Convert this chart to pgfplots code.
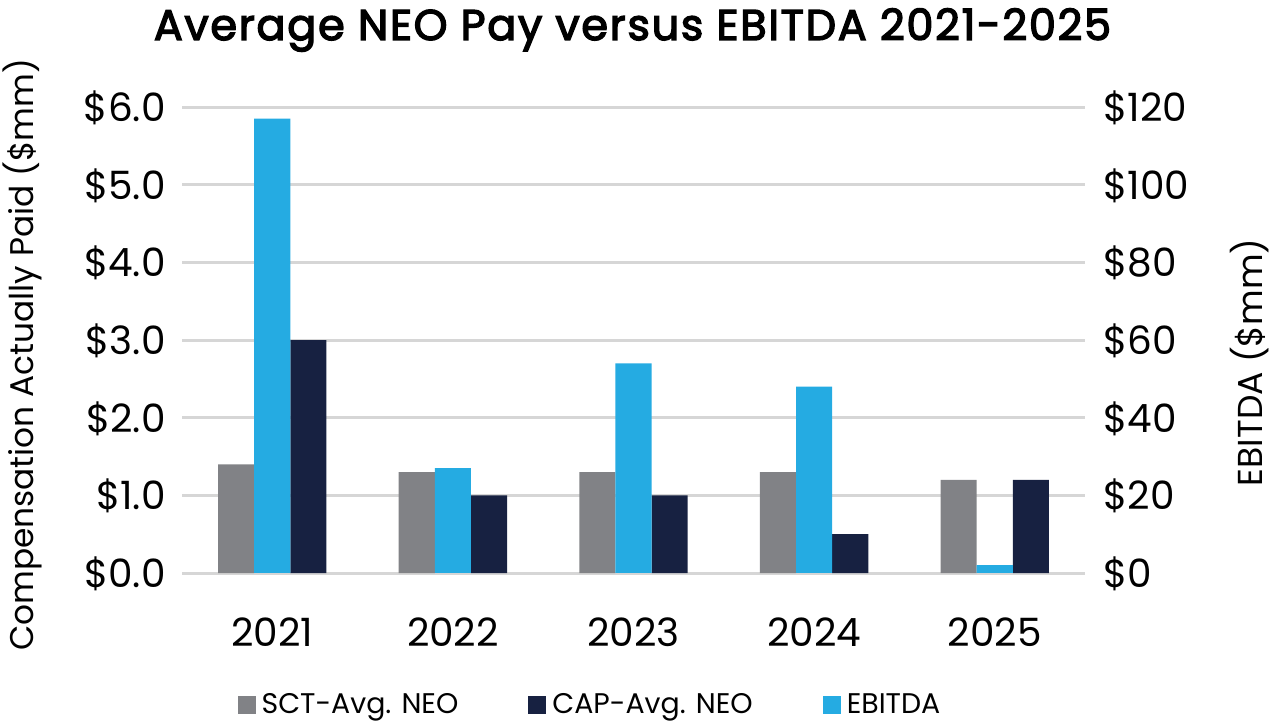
\documentclass[border=0pt]{standalone}
\usepackage{pgfplots}
\pgfplotsset{compat=1.18}
\usepackage{fontspec}
\setmainfont{Poppins}
\newfontfamily\titlefont{Poppins}[FakeBold=3.2, LetterSpace=4]

\definecolor{sctgray}{HTML}{818286}
\definecolor{capnavy}{HTML}{172141}
\definecolor{ebitdablue}{HTML}{25ABE2}
\definecolor{gridgray}{HTML}{D6D6D6}

% Year index 0..4 = 2021..2025; pay in $mm, EBITDA in $mm
\pgfplotstableread{
x sct cap ebitda
0 1.4 3.0 117
1 1.3 1.0 27
2 1.3 1.0 54
3 1.3 0.5 48
4 1.2 1.2 2
}\paydata

\pgfplotsset{
  common/.style={
    scale only axis,
    width=451.5pt, height=233pt,
    at={(91pt,74.5pt)}, anchor=south west,
    xmin=-0.5, xmax=4.5,
    ymin=0,
    clip=false,
    major tick length=0pt,
    axis line style={draw=none},
    /pgf/number format/assume math mode=true,
    ticklabel style={font=\fontsize{19.5}{21}\selectfont, inner sep=0pt},
  },
}

\begin{document}
\begin{tikzpicture}
\begin{axis}[
  common,
  ymax=6,
  ytick={0,1,...,6},
  yticklabel={\$\pgfmathprintnumber[fixed,fixed zerofill,precision=1]{\tick}},
  yticklabel style={anchor=base east, xshift=-8pt, yshift=-7.3pt},
  xtick={0,...,4},
  xticklabels={2021,2022,2023,2024,2025},
  xticklabel style={anchor=base, yshift=-36.5pt},
  ymajorgrids,
  grid style={gridgray, line width=1.5pt},
  legend image code/.code={\fill[#1] (0pt,-4.5pt) rectangle (9pt,4.5pt);},
  legend columns=3,
  legend style={
    at={(axis description cs:0.454,-0.283)}, anchor=center,
    draw=none, fill=none,
    font=\fontsize{14.2}{15}\selectfont,
    nodes={inner xsep=3pt, inner ysep=0pt},
    /tikz/every even column/.append style={column sep=32pt},
  },
]
\addplot[ybar, bar width=0.2, bar shift=-0.2, fill=sctgray, draw=none]
  table[x=x, y=sct] {\paydata};
\addlegendentry{SCT-Avg. NEO}
\addplot[ybar, bar width=0.2, bar shift=0.2, fill=capnavy, draw=none]
  table[x=x, y=cap] {\paydata};
\addlegendentry{CAP-Avg. NEO}
\addlegendimage{fill=ebitdablue, draw=none}
\addlegendentry{EBITDA}

\node[rotate=90, anchor=center, font=\fontsize{16.4}{18}\selectfont]
  at (axis description cs:-0.177,0.468) {Compensation Actually Paid (\$mm)};
\node[anchor=base, font=\titlefont\fontsize{21.5}{23}\selectfont]
  at (axis description cs:0.4989,1.1438) {Average NEO Pay versus EBITDA 2021-2025};
\end{axis}

\begin{axis}[
  common,
  ymax=120,
  axis x line=none,
  axis y line*=right,
  ytick={0,20,...,120},
  yticklabel={\$\pgfmathprintnumber[fixed,precision=0]{\tick}},
  yticklabel style={anchor=base west, xshift=9pt, yshift=-7.3pt},
]
\addplot[ybar, bar width=0.2, bar shift=0, fill=ebitdablue, draw=none]
  table[x=x, y=ebitda] {\paydata};
\node[rotate=90, anchor=center, font=\fontsize{17.3}{19}\selectfont]
  at (axis description cs:1.182,0.452) {EBITDA (\$mm)};
\end{axis}

\pgfresetboundingbox
\useasboundingbox (0,0) rectangle (636pt,361pt);
\end{tikzpicture}
\end{document}
